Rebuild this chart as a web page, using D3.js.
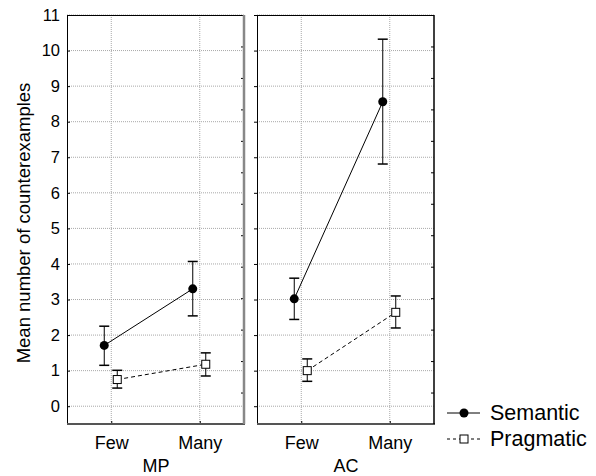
<!DOCTYPE html>
<head>
  <meta charset="UTF-8">
  <title>counterexamples</title>
  <style>
  body, html, svg{
    padding: 0;
    margin: 0;
  }
  body{
    background: #fff;
  }
  text{
    font-family: "Liberation Sans", Arial, sans-serif;
    fill: #000;
  }
  </style>
</head>
<body>
  <script src="https://cdnjs.cloudflare.com/ajax/libs/d3/7.8.5/d3.min.js"></script>
  <script type="text/javascript">
  // data
  var panels = ['MP', 'AC'];
  var levels = ['Few', 'Many'];
  var series = ['Semantic', 'Pragmatic'];
  var yTicks = [0, 1, 2, 3, 4, 5, 6, 7, 8, 9, 10, 11];
  // mean, lower, upper per panel, per level
  var semanticMean = [[1.71, 3.30], [3.02, 8.56]];
  var semanticLow = [[1.15, 2.54], [2.44, 6.81]];
  var semanticHigh = [[2.25, 4.07], [3.60, 10.32]];
  var pragmaticMean = [[0.75, 1.18], [1.00, 2.64]];
  var pragmaticLow = [[0.51, 0.85], [0.70, 2.20]];
  var pragmaticHigh = [[1.01, 1.50], [1.33, 3.10]];

  var width = 596, height = 476;
  var svg = d3.select('body').append('svg')
    .attr('width', width)
    .attr('height', height);

  var plotTop = 15, plotBottom = 424;
  var panelW = 177;
  var panelX = [67, 257];

  var y = d3.scaleLinear().domain([-0.5, 11]).range([plotBottom, plotTop]);
  // right side ticks of statistica: 13 equal parts
  var yr = d3.scaleLinear().domain([0, 13]).range([plotBottom, plotTop]);

  var shift = { Semantic: -7, Pragmatic: 6 };
  var means = { Semantic: semanticMean, Pragmatic: pragmaticMean };
  var lows = { Semantic: semanticLow, Pragmatic: pragmaticLow };
  var highs = { Semantic: semanticHigh, Pragmatic: pragmaticHigh };

  panels.forEach(function(p, pi) {
    var x = d3.scalePoint().domain(levels).range([panelX[pi], panelX[pi] + panelW]).padding(0.5);
    var g = svg.append('g');

    // grid
    g.selectAll('.hgrid').data(yTicks).enter().append('line')
      .attr('x1', panelX[pi]).attr('x2', panelX[pi] + panelW)
      .attr('y1', function(d) { return y(d); }).attr('y2', function(d) { return y(d); })
      .attr('stroke', '#a8a8a8').attr('stroke-dasharray', '1,1');
    g.selectAll('.vgrid').data(levels).enter().append('line')
      .attr('x1', function(d) { return x(d); }).attr('x2', function(d) { return x(d); })
      .attr('y1', plotTop).attr('y2', plotBottom)
      .attr('stroke', '#a8a8a8').attr('stroke-dasharray', '1,1');

    // y axis left (labels only on first panel)
    var ya = d3.axisLeft(y).tickValues(yTicks).tickSize(pi == 0 ? -3 : 3).tickPadding(7);
    var yg = g.append('g').attr('transform', 'translate(' + panelX[pi] + ',0)').call(ya);
    yg.select('.domain').remove();
    yg.selectAll('text').style('font-size', '16.5px');
    if (pi > 0) yg.selectAll('text').remove();

    // right ticks
    var ra = d3.axisRight(yr).ticks(13).tickSize(-3).tickFormat('');
    var rg = g.append('g').attr('transform', 'translate(' + (panelX[pi] + panelW) + ',0)').call(ra);
    rg.select('.domain').remove();

    // x axis
    var xa = d3.axisBottom(x).tickSize(-3).tickPadding(12);
    var xg = g.append('g').attr('transform', 'translate(0,' + plotBottom + ')').call(xa);
    xg.select('.domain').remove();
    xg.selectAll('text').style('font-size', '18px');

    // frame
    g.append('line').attr('x1', panelX[pi]).attr('x2', panelX[pi] + panelW).attr('y1', plotTop + 0.5).attr('y2', plotTop + 0.5).attr('stroke', '#000');
    g.append('line').attr('x1', panelX[pi] + 0.5).attr('x2', panelX[pi] + 0.5).attr('y1', plotTop).attr('y2', plotBottom).attr('stroke', '#000');
    g.append('line').attr('x1', panelX[pi]).attr('x2', panelX[pi] + panelW + 1).attr('y1', plotBottom).attr('y2', plotBottom)
      .attr('stroke', '#555').attr('stroke-width', 2);
    g.append('line').attr('x1', panelX[pi] + panelW).attr('x2', panelX[pi] + panelW).attr('y1', plotTop).attr('y2', plotBottom)
      .attr('stroke', pi == 0 ? '#888' : '#000').attr('stroke-width', pi == 0 ? 2.5 : 1.5);

    // panel title
    g.append('text').attr('x', (panelX[pi] + panelW / 2) + 0.5).attr('y', 472)
      .attr('text-anchor', 'middle').style('font-size', '18px').text(p);

    // series
    series.forEach(function(s) {
      var pts = levels.map(function(l, li) {
        return { x: x(l) + shift[s], m: means[s][pi][li], lo: lows[s][pi][li], hi: highs[s][pi][li] };
      });
      g.append('path')
        .attr('d', d3.line().x(function(d) { return d.x; }).y(function(d) { return y(d.m); })(pts))
        .attr('fill', 'none').attr('stroke', '#000')
        .attr('stroke-dasharray', s == 'Pragmatic' ? '4,3' : null);
      var eb = g.selectAll('.eb' + s).data(pts).enter().append('g');
      eb.append('line')
        .attr('x1', function(d) { return d.x; }).attr('x2', function(d) { return d.x; })
        .attr('y1', function(d) { return y(d.lo); }).attr('y2', function(d) { return y(d.hi); })
        .attr('stroke', '#000');
      ['lo', 'hi'].forEach(function(k) {
        eb.append('line')
          .attr('x1', function(d) { return d.x - 5; }).attr('x2', function(d) { return d.x + 5; })
          .attr('y1', function(d) { return y(d[k]); }).attr('y2', function(d) { return y(d[k]); })
          .attr('stroke', '#000').attr('stroke-width', 1.5);
      });
      if (s == 'Semantic') {
        eb.append('circle').attr('cx', function(d) { return d.x; }).attr('cy', function(d) { return y(d.m); })
          .attr('r', 4.5).attr('fill', '#000');
      } else {
        eb.append('rect').attr('x', function(d) { return d.x - 4; }).attr('y', function(d) { return y(d.m) - 4; })
          .attr('width', 8).attr('height', 8).attr('fill', '#fff').attr('stroke', '#000');
      }
    });
  });

  // y label
  svg.append('text')
    .attr('transform', 'translate(30,223) rotate(-90)')
    .attr('text-anchor', 'middle').style('font-size', '18.5px')
    .text('Mean number of counterexamples');

  // legend
  var lg = svg.append('g').attr('transform', 'translate(447,413)');
  series.forEach(function(s, i) {
    var row = lg.append('g').attr('transform', 'translate(0,' + (i * 26) + ')');
    row.append('line').attr('x1', 0).attr('x2', 33).attr('y1', 0).attr('y2', 0)
      .attr('stroke', '#000').attr('stroke-dasharray', s == 'Pragmatic' ? '3,3' : null);
    if (s == 'Semantic') {
      row.append('circle').attr('cx', 17).attr('cy', 0).attr('r', 4.5).attr('fill', '#000');
    } else {
      row.append('rect').attr('x', 13).attr('y', -4).attr('width', 8).attr('height', 8)
        .attr('fill', '#fff').attr('stroke', '#000');
    }
    row.append('text').attr('x', 43).attr('y', 7).style('font-size', '21.5px').text(s);
  });
  </script>
</body>
</html>
